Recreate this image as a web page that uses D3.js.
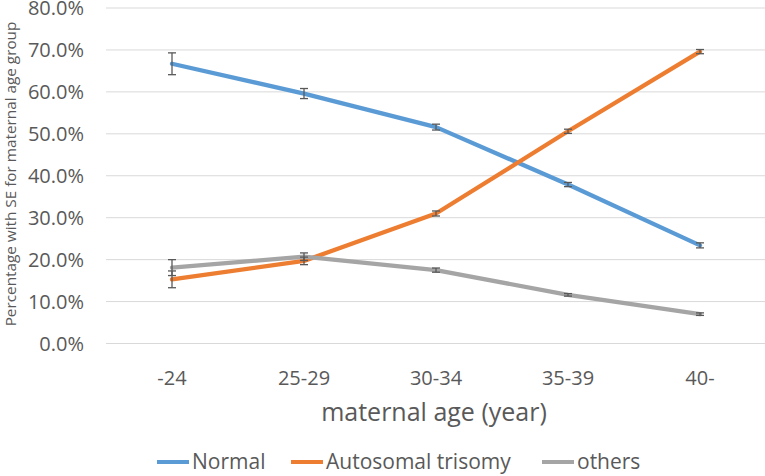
<!DOCTYPE html>
<html>
<head>
<meta charset="utf-8">
<script src="https://cdn.jsdelivr.net/npm/d3@7"></script>
<style>
  body { margin: 0; background: #fff; }
  svg text { font-family: 'Open Sans', 'Liberation Sans', sans-serif; fill: #595959; }
</style>
</head>
<body>
<svg id="chart" width="765" height="476"></svg>
<script>
// 数据
const ageGroups = ['-24', '25-29', '30-34', '35-39', '40-'];
const seriesNames = ['Normal', 'Autosomal trisomy', 'others'];
const seriesColors = ['#5B9BD5', '#ED7D31', '#A5A5A5'];
const normalPct = [66.7, 59.6, 51.6, 37.9, 23.4];
const normalSE = [2.6, 1.2, 0.7, 0.5, 0.6];
const trisomyPct = [15.3, 19.7, 31.0, 50.6, 69.6];
const trisomySE = [2.0, 0.9, 0.6, 0.5, 0.5];
const othersPct = [18.1, 20.7, 17.5, 11.6, 7.0];
const othersSE = [1.9, 0.9, 0.5, 0.3, 0.3];
const yTicks = [0, 10, 20, 30, 40, 50, 60, 70, 80];

const series = [
  { name: seriesNames[0], color: seriesColors[0], vals: normalPct, se: normalSE },
  { name: seriesNames[1], color: seriesColors[1], vals: trisomyPct, se: trisomySE },
  { name: seriesNames[2], color: seriesColors[2], vals: othersPct, se: othersSE },
];

const svg = d3.select('#chart');
const plotL = 106, plotR = 766, plotT = 8, plotB = 343.5;

const x = d3.scaleBand().domain(ageGroups).range([plotL, plotR]);
const y = d3.scaleLinear().domain([0, 80]).range([plotB, plotT]);

// 网格线
svg.append('g').selectAll('line')
  .data(yTicks)
  .join('line')
  .attr('x1', plotL).attr('x2', plotR)
  .attr('y1', d => y(d)).attr('y2', d => y(d))
  .attr('stroke', '#D9D9D9').attr('stroke-width', 1);

// y 轴刻度
svg.append('g').selectAll('text')
  .data(yTicks)
  .join('text')
  .attr('x', 84).attr('y', d => y(d))
  .attr('dy', '0.36em')
  .attr('text-anchor', 'end')
  .attr('font-size', 20)
  .text(d => d.toFixed(1) + '%');

// x 轴刻度
svg.append('g').selectAll('text')
  .data(ageGroups)
  .join('text')
  .attr('x', d => x(d) + x.bandwidth() / 2)
  .attr('y', 385)
  .attr('text-anchor', 'middle')
  .attr('font-size', 20)
  .text(d => d);

// 轴标题
svg.append('text')
  .attr('x', 434).attr('y', 421)
  .attr('text-anchor', 'middle')
  .attr('font-size', 25)
  .text('maternal age (year)');

svg.append('text')
  .attr('transform', 'translate(16,174) rotate(-90)')
  .attr('text-anchor', 'middle')
  .attr('font-size', 15.3)
  .text('Percentage with SE for maternal age group');

const cx = d => x(d) + x.bandwidth() / 2;

// 折线
const line = d3.line()
  .x((v, i) => cx(ageGroups[i]))
  .y(v => y(v));

svg.append('g').selectAll('path')
  .data(series)
  .join('path')
  .attr('d', s => line(s.vals))
  .attr('fill', 'none')
  .attr('stroke', s => s.color)
  .attr('stroke-width', 4.3)
  .attr('stroke-linejoin', 'round')
  .attr('stroke-linecap', 'round');

// 误差线
series.forEach(s => {
  const g = svg.append('g').attr('stroke', '#595959').attr('stroke-width', 1.3);
  s.vals.forEach((v, i) => {
    const px = cx(ageGroups[i]);
    const y1 = y(v + s.se[i]), y2 = y(v - s.se[i]);
    g.append('line').attr('x1', px).attr('x2', px).attr('y1', y1).attr('y2', y2);
    g.append('line').attr('x1', px - 4).attr('x2', px + 4).attr('y1', y1).attr('y2', y1);
    g.append('line').attr('x1', px - 4).attr('x2', px + 4).attr('y1', y2).attr('y2', y2);
  });
});

// 图例
const legendX = [157, 291, 542];
const legend = svg.append('g').selectAll('g')
  .data(series)
  .join('g')
  .attr('transform', (s, i) => `translate(${legendX[i]},462)`);
legend.append('line')
  .attr('x1', 0).attr('x2', 32)
  .attr('stroke', s => s.color).attr('stroke-width', 4);
legend.append('text')
  .attr('x', 35).attr('dy', '0.35em')
  .attr('font-size', 21)
  .text(s => s.name);
</script>
</body>
</html>
